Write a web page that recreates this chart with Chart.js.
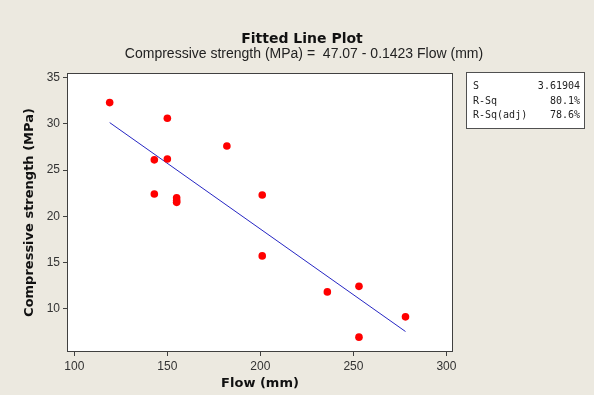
<!DOCTYPE html>
<html lang="en">
<head>
<meta charset="UTF-8">
<title>Fitted Line Plot</title>
<script src="https://cdn.jsdelivr.net/npm/chart.js@4"></script>
<style>
    html, body { margin: 0; padding: 0; background: #ECE9E0; }
    canvas { display: block; }
</style>
</head>
<body>
<canvas id="grafica-ajuste" width="594" height="395"></canvas>
<script>
//Datos de cada muestra: flujo (mm) y resistencia a compresión (MPa)
const flujo = [119, 150, 182, 143, 150, 143, 155, 155, 155, 201, 201, 236, 253, 253, 278];
const resistencia = [32.3, 30.6, 27.6, 26.1, 26.2, 22.4, 22.0, 21.7, 21.5, 22.3, 15.7, 11.8, 12.4, 6.9, 9.1];

//Coeficientes de la recta ajustada (los del subtítulo)
const intercepto = 47.07;
const pendiente = -0.1423;

//Marcas de los ejes
const ticksX = [100, 150, 200, 250, 300];
const ticksY = [10, 15, 20, 25, 30, 35];

//Tabla resumen de la regresión
const etiquetasResumen = ['S', 'R-Sq', 'R-Sq(adj)'];
const valoresResumen = ['3.61904', '80.1%', '78.6%'];

const colorFondo = '#ECE9E0';
const colorMarco = '#404040';

//La recta va del flujo mínimo al máximo
const extremos = [Math.min(...flujo), Math.max(...flujo)];

let datos = {
    datasets: [
        {
            data: flujo.map((f, i) => ({x: f, y: resistencia[i]})),
            backgroundColor: '#FF0000',
            borderWidth: 0,
            pointRadius: 3.8,
            showLine: false
        },
        {
            data: extremos.map(f => ({x: f, y: intercepto + pendiente * f})),
            borderColor: '#2626C4',
            borderWidth: 1,
            pointRadius: 0,
            showLine: true
        }
    ]
};

//--------------------------------------------------
//Fondo beige, área blanca, marco, títulos y tabla de la derecha
const decoracion = {
    id: 'decoracion',
    beforeDraw(chart) {
        const {ctx, chartArea: {top, bottom, left, right}} = chart;
        ctx.save();
        ctx.fillStyle = colorFondo;
        ctx.fillRect(0, 0, chart.width, chart.height);
        ctx.fillStyle = '#FFFFFF';
        ctx.fillRect(left, top, right - left, bottom - top);
        ctx.restore();
    },
    afterDraw(chart) {
        const {ctx, chartArea: {top, bottom, left, right}} = chart;
        ctx.save();
        ctx.strokeStyle = colorMarco;
        ctx.lineWidth = 1;
        ctx.strokeRect(left - 0.5, top - 0.5, right - left + 1, bottom - top + 1);

        ctx.fillStyle = '#111111';
        ctx.textAlign = 'center';
        ctx.textBaseline = 'alphabetic';
        ctx.font = "bold 14px 'DejaVu Sans'";
        ctx.fillText('Fitted Line Plot', 302, 43);
        ctx.font = "14px 'Liberation Sans'";
        ctx.fillStyle = '#222222';
        ctx.fillText('Compressive strength (MPa) =  ' + intercepto.toFixed(2) + ' - ' + Math.abs(pendiente) + ' Flow (mm)', 304, 58);

        //tabla resumen
        ctx.fillStyle = '#FFFFFF';
        ctx.fillRect(466, 72, 118, 57);
        ctx.strokeStyle = '#505050';
        ctx.strokeRect(466.5, 72.5, 118, 56);
        ctx.fillStyle = '#222222';
        ctx.font = "10px 'DejaVu Sans Mono'";
        etiquetasResumen.forEach((txt, i) => {
            const y = 89 + i * 14.6;
            ctx.textAlign = 'left';
            ctx.fillText(txt, 473, y);
            ctx.textAlign = 'right';
            ctx.fillText(valoresResumen[i], 580, y);
        });
        ctx.restore();
    }
};
//--------------------------------------------------

let opciones = {
    responsive: false,
    animation: false,
    layout: {
        padding: {top: 74, right: 142, bottom: 0, left: 0}
    },
    plugins: {
        legend: {display: false},
        tooltip: {enabled: false}
    },
    scales: {
        x: {
            type: 'linear',
            min: 96.6,
            max: 303,
            afterBuildTicks: escala => { escala.ticks = ticksX.map(v => ({value: v})); },
            afterFit: escala => { escala.height = 44; },
            grid: {drawOnChartArea: false, drawTicks: true, tickLength: 5, color: colorMarco},
            border: {display: false},
            ticks: {
                color: '#333333',
                padding: 3,
                maxRotation: 0,
                font: {family: 'Liberation Sans', size: 12}
            },
            title: {
                display: true,
                text: 'Flow (mm)',
                color: '#111111',
                padding: {top: 0, bottom: 4},
                font: {family: 'DejaVu Sans', size: 13, weight: 'bold'}
            }
        },
        y: {
            type: 'linear',
            min: 5.4,
            max: 35.4,
            afterBuildTicks: escala => { escala.ticks = ticksY.map(v => ({value: v})); },
            afterFit: escala => { escala.width = 68; },
            grid: {drawOnChartArea: false, drawTicks: true, tickLength: 5, color: colorMarco},
            border: {display: false},
            ticks: {
                color: '#333333',
                padding: 3,
                font: {family: 'Liberation Sans', size: 12}
            },
            title: {
                display: true,
                text: 'Compressive strength (MPa)',
                color: '#111111',
                padding: {top: 22, bottom: 0},
                font: {family: 'DejaVu Sans', size: 13, weight: 'bold'}
            }
        }
    }
};

let miGrafica = new Chart(document.getElementById('grafica-ajuste'), {
    type: 'scatter',
    data: datos,
    options: opciones,
    plugins: [decoracion]
});
</script>
</body>
</html>
